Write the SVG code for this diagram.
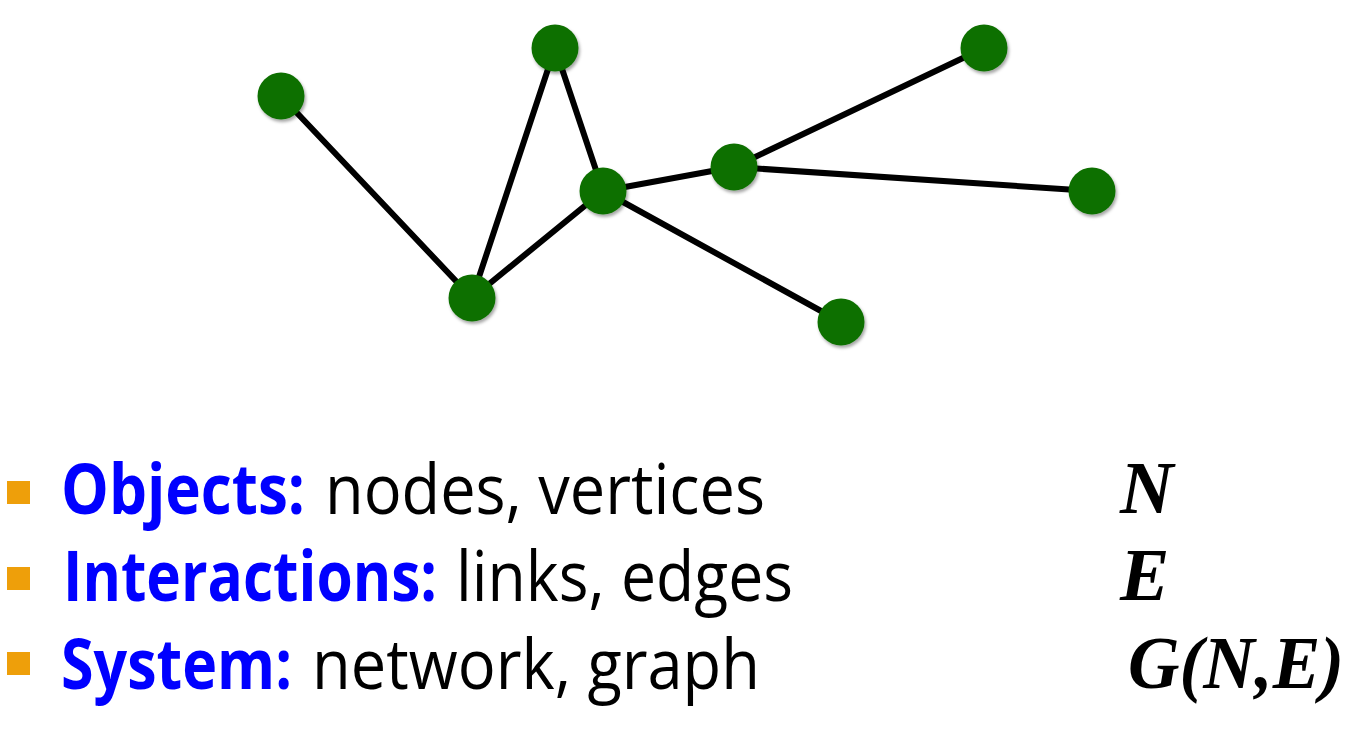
<svg xmlns="http://www.w3.org/2000/svg" width="1364" height="736" viewBox="0 0 1364 736">
<defs>
<filter id="sh" x="-30%" y="-30%" width="160%" height="160%">
<feDropShadow dx="1.5" dy="2.5" stdDeviation="1.5" flood-color="#000" flood-opacity="0.35"/>
</filter>
<style>
.edge{stroke:#000;stroke-width:6;stroke-linecap:round}
.node{fill:#116f05;filter:url(#sh)}
.bul{fill:#ee9f0a}
.key{font-family:"Open Sans","Noto Sans",sans-serif;font-weight:bold;font-size:69px;fill:#0000ff}
.txt{font-family:"Open Sans","Noto Sans",sans-serif;font-size:69px;fill:#000}
.sym{font-family:"Liberation Serif","Times New Roman",serif;font-weight:bold;font-style:italic;font-size:74px;fill:#000}
</style>
</defs>
<rect width="1364" height="736" fill="#fff"/>
<g id="connectors">
<line class="edge" x1="281" y1="96" x2="472" y2="298"/>
<line class="edge" x1="472" y1="298" x2="555" y2="48"/>
<line class="edge" x1="555" y1="48" x2="603" y2="191"/>
<line class="edge" x1="472" y1="298" x2="603" y2="191"/>
<line class="edge" x1="603" y1="191" x2="734" y2="167"/>
<line class="edge" x1="734" y1="167" x2="984" y2="48"/>
<line class="edge" x1="734" y1="167" x2="1092" y2="191"/>
<line class="edge" x1="603" y1="191" x2="841" y2="322"/>
</g>
<g id="n1"><circle class="node" cx="281" cy="96" r="23.5"/></g>
<g id="n2"><circle class="node" cx="555" cy="48" r="23.5"/></g>
<g id="n3"><circle class="node" cx="984" cy="48" r="23.5"/></g>
<g id="n4"><circle class="node" cx="734" cy="167" r="23.5"/></g>
<g id="n5"><circle class="node" cx="603" cy="191" r="23.5"/></g>
<g id="n6"><circle class="node" cx="1092" cy="191" r="23.5"/></g>
<g id="n7"><circle class="node" cx="472" cy="298" r="23.5"/></g>
<g id="n8"><circle class="node" cx="841" cy="322" r="23.5"/></g>
<g id="legend">
<rect class="bul" x="7" y="481" width="23" height="23"/>
<rect class="bul" x="7" y="567" width="23" height="23"/>
<rect class="bul" x="7" y="652" width="23" height="23"/>
<text class="key" x="61" y="514" textLength="244" lengthAdjust="spacingAndGlyphs">Objects:</text>
<text class="txt" x="325" y="514" textLength="440" lengthAdjust="spacingAndGlyphs">nodes, vertices</text>
<text class="key" x="63" y="601" textLength="374" lengthAdjust="spacingAndGlyphs">Interactions:</text>
<text class="txt" x="456" y="601" textLength="337" lengthAdjust="spacingAndGlyphs">links, edges</text>
<text class="key" x="61" y="689" textLength="231" lengthAdjust="spacingAndGlyphs">System:</text>
<text class="txt" x="312" y="689" textLength="448" lengthAdjust="spacingAndGlyphs">network, graph</text>
<text class="sym" x="1120" y="513">N</text>
<text class="sym" x="1120" y="600">E</text>
<text class="sym" x="1128" y="688" textLength="216" lengthAdjust="spacingAndGlyphs">G(N,E)</text>
</g>
</svg>
